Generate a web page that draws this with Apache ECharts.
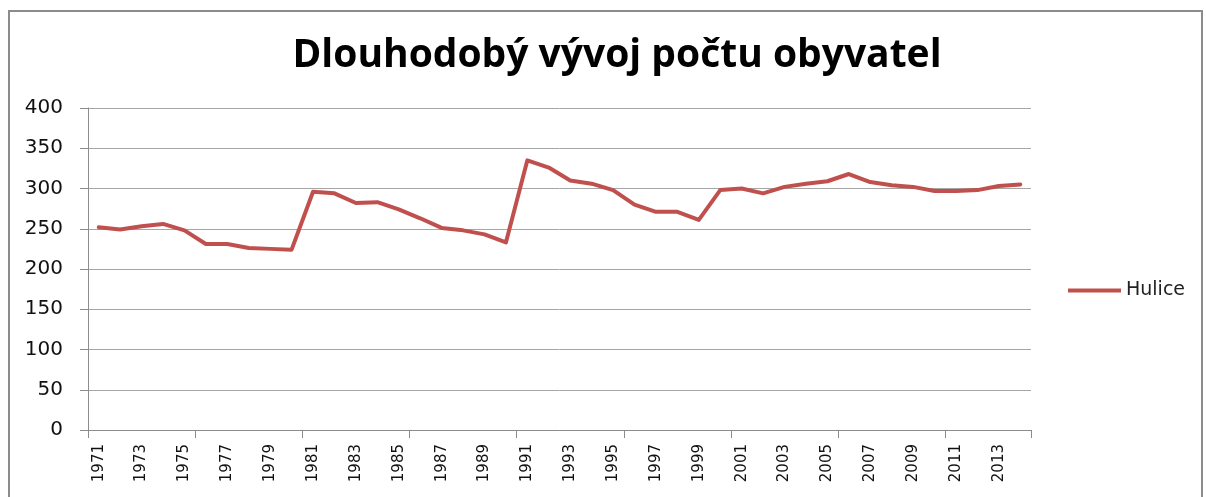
<!DOCTYPE html>
<html>
<head>
<meta charset="utf-8">
<script src="https://cdn.jsdelivr.net/npm/echarts@6/dist/echarts.min.js"></script>
<style>
  html, body { margin: 0; padding: 0; background: #fff; }
  #frame { position: absolute; left: 8px; top: 10px; width: 1191px; height: 600px; border: 2px solid #8c8c8c; }
  #chart { position: absolute; left: 0; top: 0; width: 1206px; height: 497px; }
</style>
</head>
<body>
<div id="frame"></div>
<div id="chart"></div>
<script>
const years = [
  '1971', '1972', '1973', '1974', '1975', '1976', '1977', '1978', '1979', '1980',
  '1981', '1982', '1983', '1984', '1985', '1986', '1987', '1988', '1989', '1990',
  '1991', '1992', '1993', '1994', '1995', '1996', '1997', '1998', '1999', '2000',
  '2001', '2002', '2003', '2004', '2005', '2006', '2007', '2008', '2009', '2010',
  '2011', '2012', '2013', '2014'
];
const hulice = [
  252, 249, 253, 256, 248, 231, 231, 226, 225, 224,
  296, 294, 282, 283, 274, 263, 251, 248, 243, 233,
  335, 326, 310, 306, 298, 280, 271, 271, 261, 298,
  300, 294, 302, 306, 309, 318, 308, 304, 302, 297,
  297, 298, 303, 305
];
const seriesName = 'Hulice';
const titleText = 'Dlouhodobý vývoj počtu obyvatel';

const chart = echarts.init(document.getElementById('chart'));

chart.setOption({
  animation: false,
  backgroundColor: 'transparent',
  title: {
    text: titleText,
    left: 612,
    top: 31,
    textAlign: 'center',
    textStyle: { fontFamily: 'Open Sans', fontWeight: 'bold', fontSize: 39, color: '#000' }
  },
  legend: {
    left: 1068,
    top: 281,
    padding: 0,
    icon: 'rect',
    itemWidth: 53,
    itemHeight: 4,
    textStyle: { fontFamily: 'DejaVu Sans', fontSize: 19, color: '#222' },
    data: [seriesName]
  },
  grid: { left: 88, right: 175, top: 108, bottom: 67 },
  xAxis: {
    type: 'category',
    data: years,
    boundaryGap: true,
    axisLine: { lineStyle: { color: '#8c8c8c', width: 1 } },
    // tick marks every 5 years, labels every other year
    axisTick: { show: true, interval: 4, length: 8, lineStyle: { color: '#8c8c8c' } },
    axisLabel: {
      interval: 1,
      rotate: 90,
      margin: 14,
      fontFamily: 'DejaVu Sans',
      fontSize: 15,
      color: '#111'
    },
    splitLine: { show: false }
  },
  yAxis: {
    type: 'value',
    min: 0,
    max: 400,
    interval: 50,
    axisLine: { show: true, lineStyle: { color: '#8c8c8c', width: 1 } },
    axisTick: { show: true, length: 8, lineStyle: { color: '#8c8c8c' } },
    axisLabel: { margin: 25, fontFamily: 'DejaVu Sans', fontSize: 20, color: '#111' },
    splitLine: { lineStyle: { color: '#a6a6a6', width: 1 } }
  },
  series: [{
    name: seriesName,
    type: 'line',
    data: hulice,
    symbol: 'none',
    lineStyle: { width: 4, color: '#c0504d', join: 'round', cap: 'round' },
    itemStyle: { color: '#c0504d' }
  }]
});
</script>
</body>
</html>
